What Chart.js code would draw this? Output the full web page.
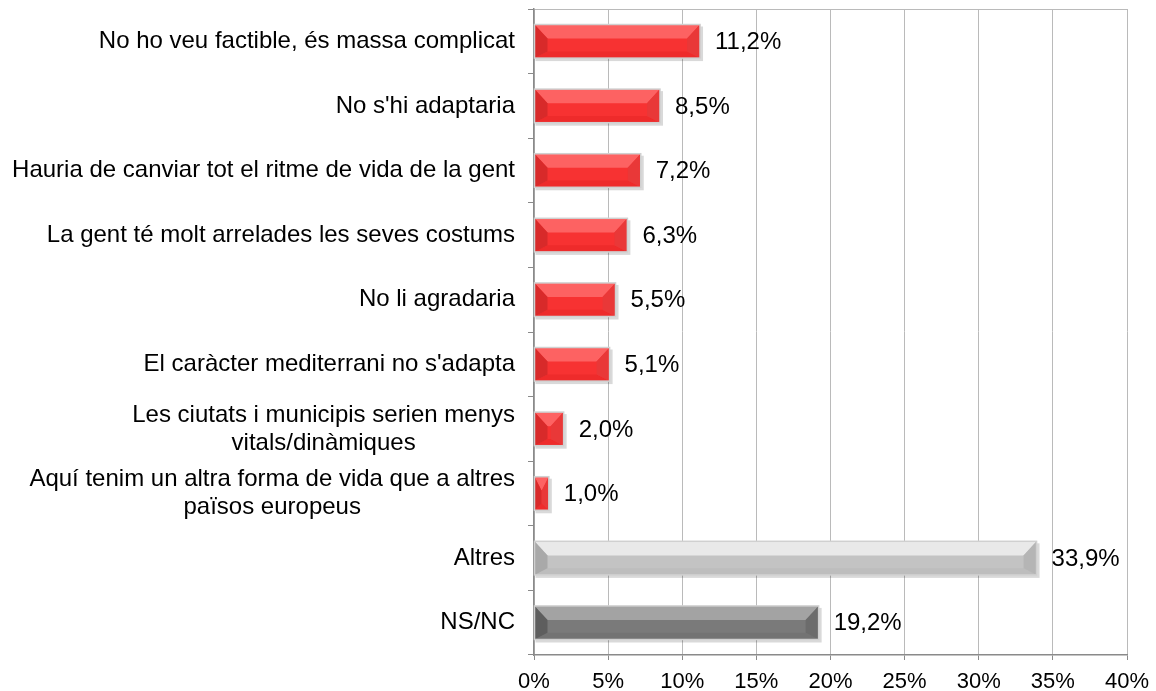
<!DOCTYPE html>
<html>
<head>
<meta charset="utf-8">
<script src="https://cdn.jsdelivr.net/npm/chart.js@4.4.0/dist/chart.umd.min.js"></script>
<style>
  body { margin: 0; background: #fff; }
  #wrap { width: 1156px; height: 691px; }
</style>
</head>
<body>
<div id="wrap"><canvas id="chart"></canvas></div>
<script>
// data
const labels = [
  'No ho veu factible, és massa complicat',
  "No s'hi adaptaria",
  'Hauria de canviar tot el ritme de vida de la gent',
  'La gent té molt arrelades les seves costums',
  'No li agradaria',
  "El caràcter mediterrani no s'adapta",
  ['Les ciutats i municipis serien menys', 'vitals/dinàmiques'],
  ['Aquí tenim un altra forma de vida que a altres', 'països europeus'],
  'Altres',
  'NS/NC'
];
const values = [11.2, 8.5, 7.2, 6.3, 5.5, 5.1, 2.0, 1.0, 33.9, 19.2];
const valueLabels = ['11,2%', '8,5%', '7,2%', '6,3%', '5,5%', '5,1%', '2,0%', '1,0%', '33,9%', '19,2%'];
const xTicks = [0, 5, 10, 15, 20, 25, 30, 35, 40];

// bevel palettes: mid, top, bottom, left, right
const red  = { mid: '#f73232', top: '#fd6262', bot: '#ee2b2b', left: '#d82a2a', right: '#e93838' };
const lite = { mid: '#c3c3c3', top: '#e9e9e9', bot: '#bdbdbd', left: '#a9a9a9', right: '#b5b5b5' };
const dark = { mid: '#7a7a7a', top: '#a3a3a3', bot: '#737373', left: '#5e5e5e', right: '#6c6c6c' };
const palettes = labels.map((l, i) => i === 8 ? lite : (i === 9 ? dark : red));

const FONT = '"Liberation Sans", Arial, sans-serif';

function poly(ctx, pts, color) {
  ctx.beginPath();
  ctx.moveTo(pts[0][0], pts[0][1]);
  for (let i = 1; i < pts.length; i++) ctx.lineTo(pts[i][0], pts[i][1]);
  ctx.closePath();
  ctx.fillStyle = color;
  ctx.fill();
}

// shadow under bars
const shadowPlugin = {
  id: 'shadow',
  beforeDatasetsDraw(chart) {
    const ctx = chart.ctx;
    ctx.save();
    chart.getDatasetMeta(0).data.forEach(el => {
      const p = el.getProps(['x', 'y', 'base', 'height'], true);
      ctx.fillStyle = 'rgba(0,0,0,0.15)';
      ctx.fillRect(p.base + 1, p.y - p.height / 2 + 2, p.x - p.base + 2, p.height + 1);
    });
    ctx.restore();
  }
};

// bevel look on top of the plain bars
const bevelPlugin = {
  id: 'bevel',
  afterDatasetsDraw(chart) {
    const ctx = chart.ctx;
    ctx.save();
    chart.getDatasetMeta(0).data.forEach((el, i) => {
      const p = el.getProps(['x', 'y', 'base', 'height'], true);
      const c = palettes[i];
      const L = p.base, R = p.x, T = p.y - p.height / 2, B = p.y + p.height / 2;
      const h = B - T;
      const bw = Math.min(13, (R - L) / 2);
      const bt = h * 0.42, bb = h * 0.2;
      poly(ctx, [[L, T], [R, T], [R - bw, T + bt], [L + bw, T + bt]], c.top);
      poly(ctx, [[L, B], [R, B], [R - bw, B - bb], [L + bw, B - bb]], c.bot);
      poly(ctx, [[L, T], [L + bw, T + bt], [L + bw, B - bb], [L, B]], c.left);
      poly(ctx, [[R, T], [R - bw, T + bt], [R - bw, B - bb], [R, B]], c.right);
      ctx.strokeStyle = '#d0d0d0';
      ctx.lineWidth = 1.5;
      ctx.strokeRect(L, T, R - L, h);
    });
    ctx.restore();
  }
};

// value labels at bar ends
const valuePlugin = {
  id: 'values',
  afterDatasetsDraw(chart) {
    const ctx = chart.ctx;
    ctx.save();
    ctx.font = '24px ' + FONT;
    ctx.fillStyle = '#000';
    ctx.textAlign = 'left';
    ctx.textBaseline = 'middle';
    chart.getDatasetMeta(0).data.forEach((el, i) => {
      const p = el.getProps(['x', 'y'], true);
      ctx.fillText(valueLabels[i], p.x + 15, p.y + 1);
    });
    ctx.restore();
  }
};

// category labels, multi-line ones centered on their widest line
const catPlugin = {
  id: 'cats',
  afterDraw(chart) {
    const ctx = chart.ctx;
    const y = chart.scales.y;
    const right = chart.chartArea.left - 19;
    ctx.save();
    ctx.font = '24px ' + FONT;
    ctx.fillStyle = '#000';
    ctx.textBaseline = 'middle';
    labels.forEach((lab, i) => {
      const cy = y.getPixelForTick(i);
      if (Array.isArray(lab)) {
        const w = Math.max(...lab.map(s => ctx.measureText(s).width));
        ctx.textAlign = 'center';
        const lh = 28;
        lab.forEach((s, k) => {
          ctx.fillText(s, right - w / 2, cy + (k - (lab.length - 1) / 2) * lh);
        });
      } else {
        ctx.textAlign = 'right';
        ctx.fillText(lab, right, cy);
      }
    });
    ctx.restore();
  }
};

new Chart(document.getElementById('chart'), {
  type: 'bar',
  data: {
    labels: labels,
    datasets: [{
      data: values,
      backgroundColor: palettes.map(p => p.mid),
      borderWidth: 0,
      categoryPercentage: 1,
      barPercentage: 0.52
    }]
  },
  options: {
    indexAxis: 'y',
    responsive: true,
    maintainAspectRatio: false,
    animation: false,
    layout: { padding: { left: 0, top: 9, right: 29, bottom: 0 } },
    plugins: { legend: { display: false }, tooltip: { enabled: false } },
    scales: {
      x: {
        min: 0,
        max: 40,
        afterBuildTicks: s => { s.ticks = xTicks.map(v => ({ value: v })); },
        afterFit: s => { s.height = 36; s.paddingLeft = 0; s.paddingRight = 0; },
        ticks: {
          callback: v => v + '%',
          font: { family: FONT, size: 22 },
          color: '#000',
          padding: 9,
          maxRotation: 0
        },
        grid: { color: '#bababa', lineWidth: 1, tickLength: 5, tickColor: '#8a8a8a' },
        border: { color: '#8a8a8a', width: 1.5 }
      },
      y: {
        afterFit: s => { s.width = 534; },
        ticks: { display: false },
        grid: {
          offset: true,
          drawOnChartArea: true,
          color: ctx => ctx.index === 0 ? '#bababa' : 'rgba(0,0,0,0)',
          tickColor: '#8a8a8a',
          tickLength: 6
        },
        border: { color: '#8a8a8a', width: 1.5 }
      }
    }
  },
  plugins: [shadowPlugin, bevelPlugin, valuePlugin, catPlugin]
});
</script>
</body>
</html>
